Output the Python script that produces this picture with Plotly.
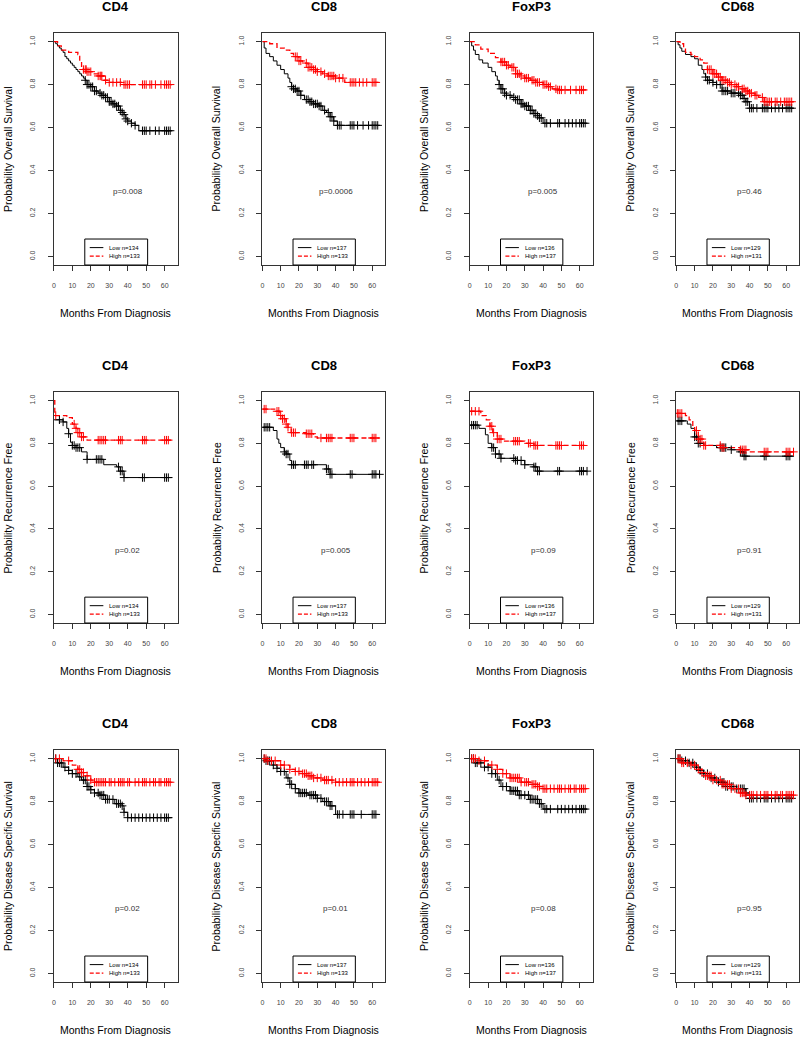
import numpy as np
import plotly.graph_objects as go

# ---------------- labels ----------------
markers = ["CD4", "CD8", "FoxP3", "CD68"]
endpoints = ["Probability Overall Survival", "Probability Recurrence Free",
             "Probability Disease Specific Survival"]
x_title = "Months From Diagnosis"
p_values = [["p=0.008", "p=0.0006", "p=0.005", "p=0.46"],
            ["p=0.02", "p=0.005", "p=0.09", "p=0.91"],
            ["p=0.02", "p=0.01", "p=0.08", "p=0.95"]]
n_low = [134, 137, 136, 129]
n_high = [133, 133, 137, 131]
x_ticks = [0, 10, 20, 30, 40, 50, 60]
y_ticks = [0.0, 0.2, 0.4, 0.6, 0.8, 1.0]

# ---------------- Overall survival ----------------
OS_CD4_LOW_T = [0, 1, 2, 3, 4, 5, 6, 7, 8, 9, 10, 11, 12, 13, 14, 15, 16, 17, 18, 20, 22, 24, 26, 28, 30, 32, 34, 36, 37, 38, 39, 40, 42, 44, 46, 64]
OS_CD4_LOW_S = [1.00, 0.99, 0.98, 0.97, 0.96, 0.95, 0.93, 0.92, 0.91, 0.90, 0.89, 0.88, 0.87, 0.86, 0.85, 0.84, 0.83, 0.82, 0.80, 0.79, 0.77, 0.76, 0.75, 0.74, 0.72, 0.71, 0.70, 0.68, 0.67, 0.66, 0.64, 0.63, 0.62, 0.61, 0.585, 0.585]
OS_CD4_LOW_C = [17, 18, 19, 20, 21, 22, 23, 25, 26, 27, 28, 29, 30, 31, 32, 33, 34, 35, 36, 37, 38, 39, 40, 42, 44, 48, 49, 50, 52, 55, 57, 60, 61, 62, 63]
OS_CD4_HIGH_T = [0, 2, 4, 8, 13, 14, 15, 16, 18, 21, 24, 27, 30, 37, 64]
OS_CD4_HIGH_S = [1.00, 0.98, 0.96, 0.95, 0.94, 0.91, 0.88, 0.87, 0.86, 0.85, 0.84, 0.82, 0.81, 0.80, 0.80]
OS_CD4_HIGH_C = [16, 17, 17.5, 18, 19, 20, 24, 25, 25.5, 26, 28, 30, 32, 34, 36, 38, 39, 40, 41, 48, 49, 50, 52, 53, 55, 58, 60, 61, 62, 63]

OS_CD8_LOW_T = [0, 1, 2, 4, 6, 8, 10, 12, 14, 15, 16, 17, 19, 21, 23, 26, 28, 31, 33, 35, 37, 39, 41, 64]
OS_CD8_LOW_S = [1.00, 0.97, 0.945, 0.93, 0.91, 0.89, 0.87, 0.85, 0.83, 0.81, 0.79, 0.78, 0.77, 0.75, 0.73, 0.72, 0.71, 0.70, 0.68, 0.67, 0.65, 0.63, 0.61, 0.61]
OS_CD8_LOW_C = [16, 17, 18, 19, 20, 21, 24, 25, 26, 27, 28, 29, 30, 31, 32, 34, 36, 37, 38, 39, 41, 42, 43, 48, 49, 50, 52, 55, 58, 60, 61, 62, 63]
OS_CD8_HIGH_T = [0, 4, 8, 12, 15, 17, 20, 22, 25, 28, 30, 33, 36, 40, 45, 64]
OS_CD8_HIGH_S = [1.00, 0.99, 0.97, 0.96, 0.945, 0.93, 0.91, 0.90, 0.88, 0.87, 0.86, 0.85, 0.84, 0.83, 0.81, 0.81]
OS_CD8_HIGH_C = [18, 19, 20, 21, 24, 25, 26, 27, 28, 29, 30, 32, 34, 36, 37, 38, 39, 40, 42, 44, 48, 49, 50, 51, 53, 55, 57, 60, 61, 62]

OS_FOX_LOW_T = [0, 1, 2, 3, 5, 7, 10, 12, 14, 15, 16, 17, 19, 20, 23, 25, 28, 30, 33, 35, 37, 38, 40, 64]
OS_FOX_LOW_S = [1.00, 0.98, 0.96, 0.94, 0.915, 0.90, 0.88, 0.86, 0.84, 0.82, 0.80, 0.78, 0.76, 0.75, 0.74, 0.73, 0.71, 0.70, 0.68, 0.665, 0.655, 0.645, 0.62, 0.62]
OS_FOX_LOW_C = [16, 17, 18, 19, 20, 22, 24, 25, 26, 27, 28, 29, 30, 31, 32, 33, 34, 35, 36, 37, 38, 39, 41, 42, 44, 48, 49, 52, 54, 56, 58, 60, 61, 62, 63]
OS_FOX_HIGH_T = [0, 3, 6, 10, 14, 17, 20, 22, 25, 28, 30, 33, 36, 40, 43, 45, 48, 64]
OS_FOX_HIGH_S = [1.00, 0.985, 0.965, 0.945, 0.925, 0.905, 0.89, 0.88, 0.85, 0.84, 0.83, 0.82, 0.81, 0.80, 0.79, 0.78, 0.775, 0.775]
OS_FOX_HIGH_C = [17, 18, 19, 20, 21, 23, 24, 25, 26, 27, 28, 30, 31, 32, 34, 35, 36, 37, 38, 40, 41, 42, 43, 44, 47, 48, 49, 50, 52, 55, 58, 60, 61, 62]

OS_CD68_LOW_T = [0, 1, 2, 3, 5, 8, 10, 12, 14, 15, 16, 17, 20, 22, 25, 30, 35, 37, 38, 40, 64]
OS_CD68_LOW_S = [1.00, 0.985, 0.97, 0.955, 0.94, 0.93, 0.92, 0.89, 0.87, 0.85, 0.835, 0.82, 0.81, 0.80, 0.77, 0.76, 0.75, 0.735, 0.72, 0.69, 0.69]
OS_CD68_LOW_C = [16, 17, 18, 20, 22, 24, 25, 26, 27, 28, 30, 31, 32, 34, 35, 36, 37, 38, 39, 40, 41, 42, 44, 47, 48, 49, 50, 52, 54, 56, 58, 60, 61, 62, 63]
OS_CD68_HIGH_T = [0, 2, 4, 5, 8, 10, 13, 15, 17, 20, 23, 25, 28, 30, 33, 35, 38, 40, 43, 45, 48, 64]
OS_CD68_HIGH_S = [1.00, 0.99, 0.97, 0.95, 0.94, 0.93, 0.915, 0.90, 0.87, 0.85, 0.835, 0.82, 0.81, 0.80, 0.79, 0.78, 0.77, 0.76, 0.75, 0.74, 0.72, 0.72]
OS_CD68_HIGH_C = [17, 18, 19, 20, 21, 22, 23, 24, 25, 26, 27, 28, 29, 30, 32, 33, 34, 36, 37, 38, 39, 40, 41, 43, 44, 47, 48, 49, 50, 51, 52, 54, 55, 57, 59, 60, 61, 62, 63]

# ---------------- Recurrence free ----------------
RF_CD4_LOW_T = [0, 5, 7, 8, 9, 10, 12, 15, 18, 27, 34, 36, 38, 64]
RF_CD4_LOW_S = [0.91, 0.90, 0.87, 0.845, 0.805, 0.79, 0.78, 0.76, 0.725, 0.70, 0.69, 0.67, 0.64, 0.64]
RF_CD4_LOW_C = [3, 5, 8, 10, 11, 12, 13, 14, 18, 23, 24, 25, 26, 35, 36, 37, 38, 48, 49, 60, 61, 62]
RF_CD4_HIGH_T = [0, 0.5, 7, 10, 12, 13, 15, 18, 64]
RF_CD4_HIGH_S = [1.00, 0.93, 0.92, 0.89, 0.87, 0.85, 0.83, 0.815, 0.815]
RF_CD4_HIGH_C = [1, 11, 12, 13, 14, 15, 16, 24, 25, 26, 27, 28, 35, 36, 37, 48, 49, 50, 60, 61, 62]

RF_CD8_LOW_T = [0, 6, 8, 9, 10, 12, 13, 15, 16, 35, 37, 64]
RF_CD8_LOW_S = [0.875, 0.86, 0.82, 0.80, 0.78, 0.76, 0.75, 0.72, 0.70, 0.68, 0.655, 0.655]
RF_CD8_LOW_C = [1, 2, 3, 4, 12, 13, 14, 16, 17, 18, 23, 24, 25, 27, 28, 35, 36, 37, 38, 48, 49, 60, 61, 62, 64]
RF_CD8_HIGH_T = [0, 8, 9.5, 11, 13, 14, 15.7, 24, 28, 30, 64]
RF_CD8_HIGH_S = [0.96, 0.95, 0.93, 0.915, 0.89, 0.875, 0.85, 0.845, 0.83, 0.825, 0.825]
RF_CD8_HIGH_C = [1, 2, 8, 9, 10, 11, 12, 13, 14, 16, 17, 18, 24, 25, 26, 27, 32, 35, 36, 37, 38, 48, 49, 50, 60, 61, 62]

RF_FOX_LOW_T = [0, 5, 8.5, 10, 12, 14, 17, 25, 30, 35, 37, 64]
RF_FOX_LOW_S = [0.885, 0.87, 0.84, 0.80, 0.78, 0.75, 0.73, 0.72, 0.70, 0.69, 0.67, 0.67]
RF_FOX_LOW_C = [1, 2, 3, 4, 12, 13, 14, 16, 17, 24, 25, 26, 28, 30, 35, 36, 37, 38, 48, 49, 60, 61, 62, 64]
RF_FOX_HIGH_T = [0, 6, 9, 11, 12.5, 15, 18, 30, 35, 64]
RF_FOX_HIGH_S = [0.95, 0.93, 0.91, 0.88, 0.85, 0.82, 0.81, 0.80, 0.79, 0.79]
RF_FOX_HIGH_C = [1, 3, 5, 11, 12, 13, 15, 16, 17, 24, 25, 26, 27, 32, 33, 35, 36, 37, 47, 48, 49, 50, 60, 61, 62]

RF_CD68_LOW_T = [0, 6, 8, 10, 12, 15, 22, 30, 35, 37, 64]
RF_CD68_LOW_S = [0.905, 0.89, 0.87, 0.83, 0.80, 0.79, 0.78, 0.77, 0.76, 0.74, 0.74]
RF_CD68_LOW_C = [1, 2, 3, 10, 11, 12, 13, 24, 25, 26, 27, 30, 35, 36, 37, 38, 48, 49, 60, 61, 62]
RF_CD68_HIGH_T = [0, 5, 7, 9, 10, 12, 15, 25, 35, 40, 64]
RF_CD68_HIGH_S = [0.94, 0.93, 0.91, 0.88, 0.86, 0.82, 0.79, 0.78, 0.77, 0.76, 0.76]
RF_CD68_HIGH_C = [0.5, 1, 2, 3, 11, 12, 13, 14, 15, 16, 24, 25, 26, 35, 36, 37, 38, 48, 49, 50, 60, 61, 62, 64]

# ---------------- Disease specific survival ----------------
DS_CD4_LOW_T = [0, 2, 5, 8, 10, 13, 15, 18, 20, 22, 25, 28, 33, 37, 38, 40, 64]
DS_CD4_LOW_S = [1.00, 0.98, 0.96, 0.945, 0.93, 0.915, 0.90, 0.87, 0.855, 0.84, 0.83, 0.81, 0.79, 0.78, 0.75, 0.725, 0.725]
DS_CD4_LOW_C = [1, 2, 3, 4, 6, 8, 10, 12, 14, 16, 17, 18, 19, 20, 22, 24, 25, 26, 27, 28, 29, 30, 32, 34, 35, 36, 37, 38, 40, 42, 44, 46, 48, 50, 52, 54, 56, 58, 60, 61, 62]
DS_CD4_HIGH_T = [0, 5, 10, 13, 15, 17, 20, 22, 64]
DS_CD4_HIGH_S = [1.00, 0.99, 0.97, 0.95, 0.935, 0.92, 0.90, 0.89, 0.89]
DS_CD4_HIGH_C = [1, 3, 8, 13, 14, 15, 16, 18, 20, 22, 23, 24, 25, 26, 27, 28, 30, 31, 33, 35, 36, 37, 38, 40, 41, 44, 46, 48, 49, 50, 52, 54, 55, 57, 58, 60, 61, 62, 63]

DS_CD8_LOW_T = [0, 2, 5, 8, 10, 13, 15, 18, 20, 25, 30, 33, 37, 40, 64]
DS_CD8_LOW_S = [1.00, 0.99, 0.97, 0.955, 0.94, 0.91, 0.88, 0.86, 0.84, 0.83, 0.815, 0.80, 0.78, 0.74, 0.74]
DS_CD8_LOW_C = [1, 2, 3, 4, 6, 8, 10, 12, 14, 15, 16, 18, 20, 21, 22, 23, 24, 26, 27, 28, 29, 30, 32, 34, 35, 36, 37, 38, 41, 42, 44, 48, 49, 50, 54, 60, 61, 62]
DS_CD8_HIGH_T = [0, 3, 10, 15, 18, 22, 25, 28, 33, 40, 64]
DS_CD8_HIGH_S = [1.00, 0.99, 0.97, 0.95, 0.94, 0.93, 0.92, 0.91, 0.90, 0.89, 0.89]
DS_CD8_HIGH_C = [1, 2, 3, 5, 7, 10, 12, 15, 18, 20, 22, 23, 24, 25, 26, 27, 28, 30, 32, 34, 35, 36, 38, 40, 42, 44, 46, 48, 49, 50, 52, 54, 56, 58, 60, 61, 62, 63]

DS_FOX_LOW_T = [0, 3, 8, 12, 15, 17, 22, 27, 33, 38, 40, 64]
DS_FOX_LOW_S = [1.00, 0.98, 0.96, 0.93, 0.90, 0.87, 0.85, 0.83, 0.81, 0.79, 0.765, 0.765]
DS_FOX_LOW_C = [1, 2, 3, 4, 6, 8, 10, 12, 14, 16, 18, 20, 22, 23, 24, 25, 26, 27, 28, 30, 32, 33, 34, 35, 36, 37, 38, 39, 41, 42, 44, 48, 50, 52, 54, 56, 58, 60, 61, 62, 63]
DS_FOX_HIGH_T = [0, 5, 10, 15, 18, 22, 28, 33, 37, 40, 64]
DS_FOX_HIGH_S = [1.00, 0.99, 0.97, 0.95, 0.93, 0.91, 0.89, 0.88, 0.87, 0.86, 0.86]
DS_FOX_HIGH_C = [1, 2, 3, 5, 8, 12, 15, 18, 20, 22, 23, 24, 25, 26, 27, 28, 30, 31, 32, 34, 35, 36, 37, 38, 40, 41, 42, 44, 46, 48, 49, 50, 52, 54, 55, 57, 58, 60, 61, 62, 63]

DS_CD68_LOW_T = [0, 3, 7, 10, 13, 15, 18, 22, 27, 33, 38, 40, 64]
DS_CD68_LOW_S = [1.00, 0.99, 0.98, 0.96, 0.945, 0.93, 0.91, 0.89, 0.87, 0.86, 0.84, 0.815, 0.815]
DS_CD68_LOW_C = [1, 2, 3, 5, 7, 9, 11, 13, 15, 17, 19, 21, 23, 25, 26, 27, 28, 30, 31, 33, 35, 36, 37, 38, 40, 41, 42, 44, 46, 48, 49, 50, 52, 54, 56, 58, 60, 61, 62, 63]
DS_CD68_HIGH_T = [0, 3, 8, 12, 14, 16, 20, 25, 30, 35, 38, 64]
DS_CD68_HIGH_S = [1.00, 0.98, 0.97, 0.95, 0.935, 0.92, 0.90, 0.88, 0.86, 0.84, 0.83, 0.83]
DS_CD68_HIGH_C = [1, 2, 3, 4, 6, 8, 10, 12, 14, 16, 17, 18, 19, 20, 22, 24, 25, 26, 27, 28, 29, 30, 32, 34, 35, 36, 37, 38, 40, 41, 42, 44, 46, 48, 49, 50, 52, 54, 55, 57, 58, 60, 61, 62, 63, 64]

panels = [
    [(OS_CD4_LOW_T, OS_CD4_LOW_S, OS_CD4_LOW_C, OS_CD4_HIGH_T, OS_CD4_HIGH_S, OS_CD4_HIGH_C),
     (OS_CD8_LOW_T, OS_CD8_LOW_S, OS_CD8_LOW_C, OS_CD8_HIGH_T, OS_CD8_HIGH_S, OS_CD8_HIGH_C),
     (OS_FOX_LOW_T, OS_FOX_LOW_S, OS_FOX_LOW_C, OS_FOX_HIGH_T, OS_FOX_HIGH_S, OS_FOX_HIGH_C),
     (OS_CD68_LOW_T, OS_CD68_LOW_S, OS_CD68_LOW_C, OS_CD68_HIGH_T, OS_CD68_HIGH_S, OS_CD68_HIGH_C)],
    [(RF_CD4_LOW_T, RF_CD4_LOW_S, RF_CD4_LOW_C, RF_CD4_HIGH_T, RF_CD4_HIGH_S, RF_CD4_HIGH_C),
     (RF_CD8_LOW_T, RF_CD8_LOW_S, RF_CD8_LOW_C, RF_CD8_HIGH_T, RF_CD8_HIGH_S, RF_CD8_HIGH_C),
     (RF_FOX_LOW_T, RF_FOX_LOW_S, RF_FOX_LOW_C, RF_FOX_HIGH_T, RF_FOX_HIGH_S, RF_FOX_HIGH_C),
     (RF_CD68_LOW_T, RF_CD68_LOW_S, RF_CD68_LOW_C, RF_CD68_HIGH_T, RF_CD68_HIGH_S, RF_CD68_HIGH_C)],
    [(DS_CD4_LOW_T, DS_CD4_LOW_S, DS_CD4_LOW_C, DS_CD4_HIGH_T, DS_CD4_HIGH_S, DS_CD4_HIGH_C),
     (DS_CD8_LOW_T, DS_CD8_LOW_S, DS_CD8_LOW_C, DS_CD8_HIGH_T, DS_CD8_HIGH_S, DS_CD8_HIGH_C),
     (DS_FOX_LOW_T, DS_FOX_LOW_S, DS_FOX_LOW_C, DS_FOX_HIGH_T, DS_FOX_HIGH_S, DS_FOX_HIGH_C),
     (DS_CD68_LOW_T, DS_CD68_LOW_S, DS_CD68_LOW_C, DS_CD68_HIGH_T, DS_CD68_HIGH_S, DS_CD68_HIGH_C)],
]

# ---------------- layout geometry (pixels) ----------------
W, H = 800, 1037
col_px = [(52, 176), (261, 384), (469, 592), (676, 799)]
row_px = [(33, 265), (392, 623), (750, 982)]
X_RANGE = [0, 67]
Y_RANGE = [-0.04, 1.04]
BLACK = "#000000"
RED = "#ff0000"
FONT = "Liberation Sans, Arial, sans-serif"


def step_at(t, s, c):
    t = np.asarray(t, float)
    s = np.asarray(s, float)
    idx = np.searchsorted(t, np.asarray(c, float), side="right") - 1
    idx = np.clip(idx, 0, len(s) - 1)
    return s[idx]


fig = go.Figure()
annotations = []
shapes = []

k = 0
for r in range(3):
    for c in range(4):
        k += 1
        xa = "x" if k == 1 else f"x{k}"
        ya = "y" if k == 1 else f"y{k}"
        lt, ls, lc, ht, hs, hc = panels[r][c]
        # curves
        fig.add_trace(go.Scatter(x=lt, y=ls, mode="lines", line=dict(color=BLACK, width=1, shape="hv"),
                                 xaxis=xa, yaxis=ya, showlegend=False, hoverinfo="skip"))
        fig.add_trace(go.Scatter(x=ht, y=hs, mode="lines",
                                 line=dict(color=RED, width=1.3, shape="hv", dash="5px,3px"),
                                 xaxis=xa, yaxis=ya, showlegend=False, hoverinfo="skip"))
        # censor marks
        fig.add_trace(go.Scatter(x=lc, y=step_at(lt, ls, lc), mode="markers",
                                 marker=dict(symbol="cross-thin", size=6, line=dict(width=1, color=BLACK)),
                                 xaxis=xa, yaxis=ya, showlegend=False, hoverinfo="skip"))
        fig.add_trace(go.Scatter(x=hc, y=step_at(ht, hs, hc), mode="markers",
                                 marker=dict(symbol="cross-thin", size=6, line=dict(width=1, color=RED)),
                                 xaxis=xa, yaxis=ya, showlegend=False, hoverinfo="skip"))

        x0p, x1p = col_px[c]
        y0p, y1p = row_px[r]
        xdom = [x0p / W, x1p / W]
        ydom = [1 - y1p / H, 1 - y0p / H]
        axis_common = dict(showgrid=False, zeroline=False, showline=True, mirror=True,
                           linecolor="#333333", linewidth=1, ticks="outside", ticklen=5,
                           tickwidth=1, tickcolor="#333333",
                           tickfont=dict(family=FONT, size=7, color="#444444"))
        fig.update_layout(**{
            ("xaxis" if k == 1 else f"xaxis{k}"): dict(
                domain=xdom, range=X_RANGE, anchor=ya, tickvals=x_ticks,
                ticklabelstandoff=9, **axis_common),
            ("yaxis" if k == 1 else f"yaxis{k}"): dict(
                domain=ydom, range=Y_RANGE, anchor=xa, tickvals=y_ticks, tickformat=".1f",
                tickangle=-90, ticklabelstandoff=10, **axis_common),
        })

        cx = (x0p + x1p) / 2 / W
        # title
        annotations.append(dict(text=f"<b>{markers[c]}</b>", x=cx, y=1 - (y0p - 27) / H,
                                xref="paper", yref="paper", showarrow=False,
                                font=dict(family=FONT, size=13, color="#000000"),
                                xanchor="center", yanchor="middle"))
        # x title
        annotations.append(dict(text=x_title, x=cx, y=1 - (y1p + 48) / H,
                                xref="paper", yref="paper", showarrow=False,
                                font=dict(family=FONT, size=10.5, color="#000000"),
                                xanchor="center", yanchor="middle"))
        # y title
        annotations.append(dict(text=endpoints[r], x=(x0p - 46) / W, y=1 - (y0p + y1p) / 2 / H,
                                xref="paper", yref="paper", showarrow=False, textangle=-90,
                                font=dict(family=FONT, size=10.5, color="#000000"),
                                xanchor="center", yanchor="middle"))
        # p-value
        annotations.append(dict(text=p_values[r][c], x=40, y=0.3, xref=xa, yref=ya,
                                showarrow=False, font=dict(family=FONT, size=8, color="#333333"),
                                xanchor="center", yanchor="middle"))
        # legend box
        xd = f"{xa} domain"
        yd = f"{ya} domain"
        shapes.append(dict(type="rect", xref=xd, yref=yd, x0=0.25, x1=0.758, y0=0.0, y1=0.112,
                           line=dict(color="#000000", width=1), fillcolor="white", layer="above"))
        shapes.append(dict(type="line", xref=xd, yref=yd, x0=0.29, x1=0.40, y0=0.075, y1=0.075,
                           line=dict(color=BLACK, width=1)))
        shapes.append(dict(type="line", xref=xd, yref=yd, x0=0.29, x1=0.40, y0=0.038, y1=0.038,
                           line=dict(color=RED, width=1.3, dash="4px,2px")))
        annotations.append(dict(text=f"Low n={n_low[c]}", x=0.43, y=0.075, xref=xd, yref=yd,
                                showarrow=False, font=dict(family=FONT, size=6, color="#000000"),
                                xanchor="left", yanchor="middle"))
        annotations.append(dict(text=f"High n={n_high[c]}", x=0.43, y=0.038, xref=xd, yref=yd,
                                showarrow=False, font=dict(family=FONT, size=6, color="#000000"),
                                xanchor="left", yanchor="middle"))

fig.update_layout(width=W, height=H, margin=dict(l=0, r=0, t=0, b=0),
                  paper_bgcolor="white", plot_bgcolor="white",
                  annotations=annotations, shapes=shapes, showlegend=False,
                  font=dict(family=FONT))

fig.write_html("out.html", config={"displayModeBar": False},
               post_script="document.body.style.margin='0';document.body.style.overflow='hidden';")
